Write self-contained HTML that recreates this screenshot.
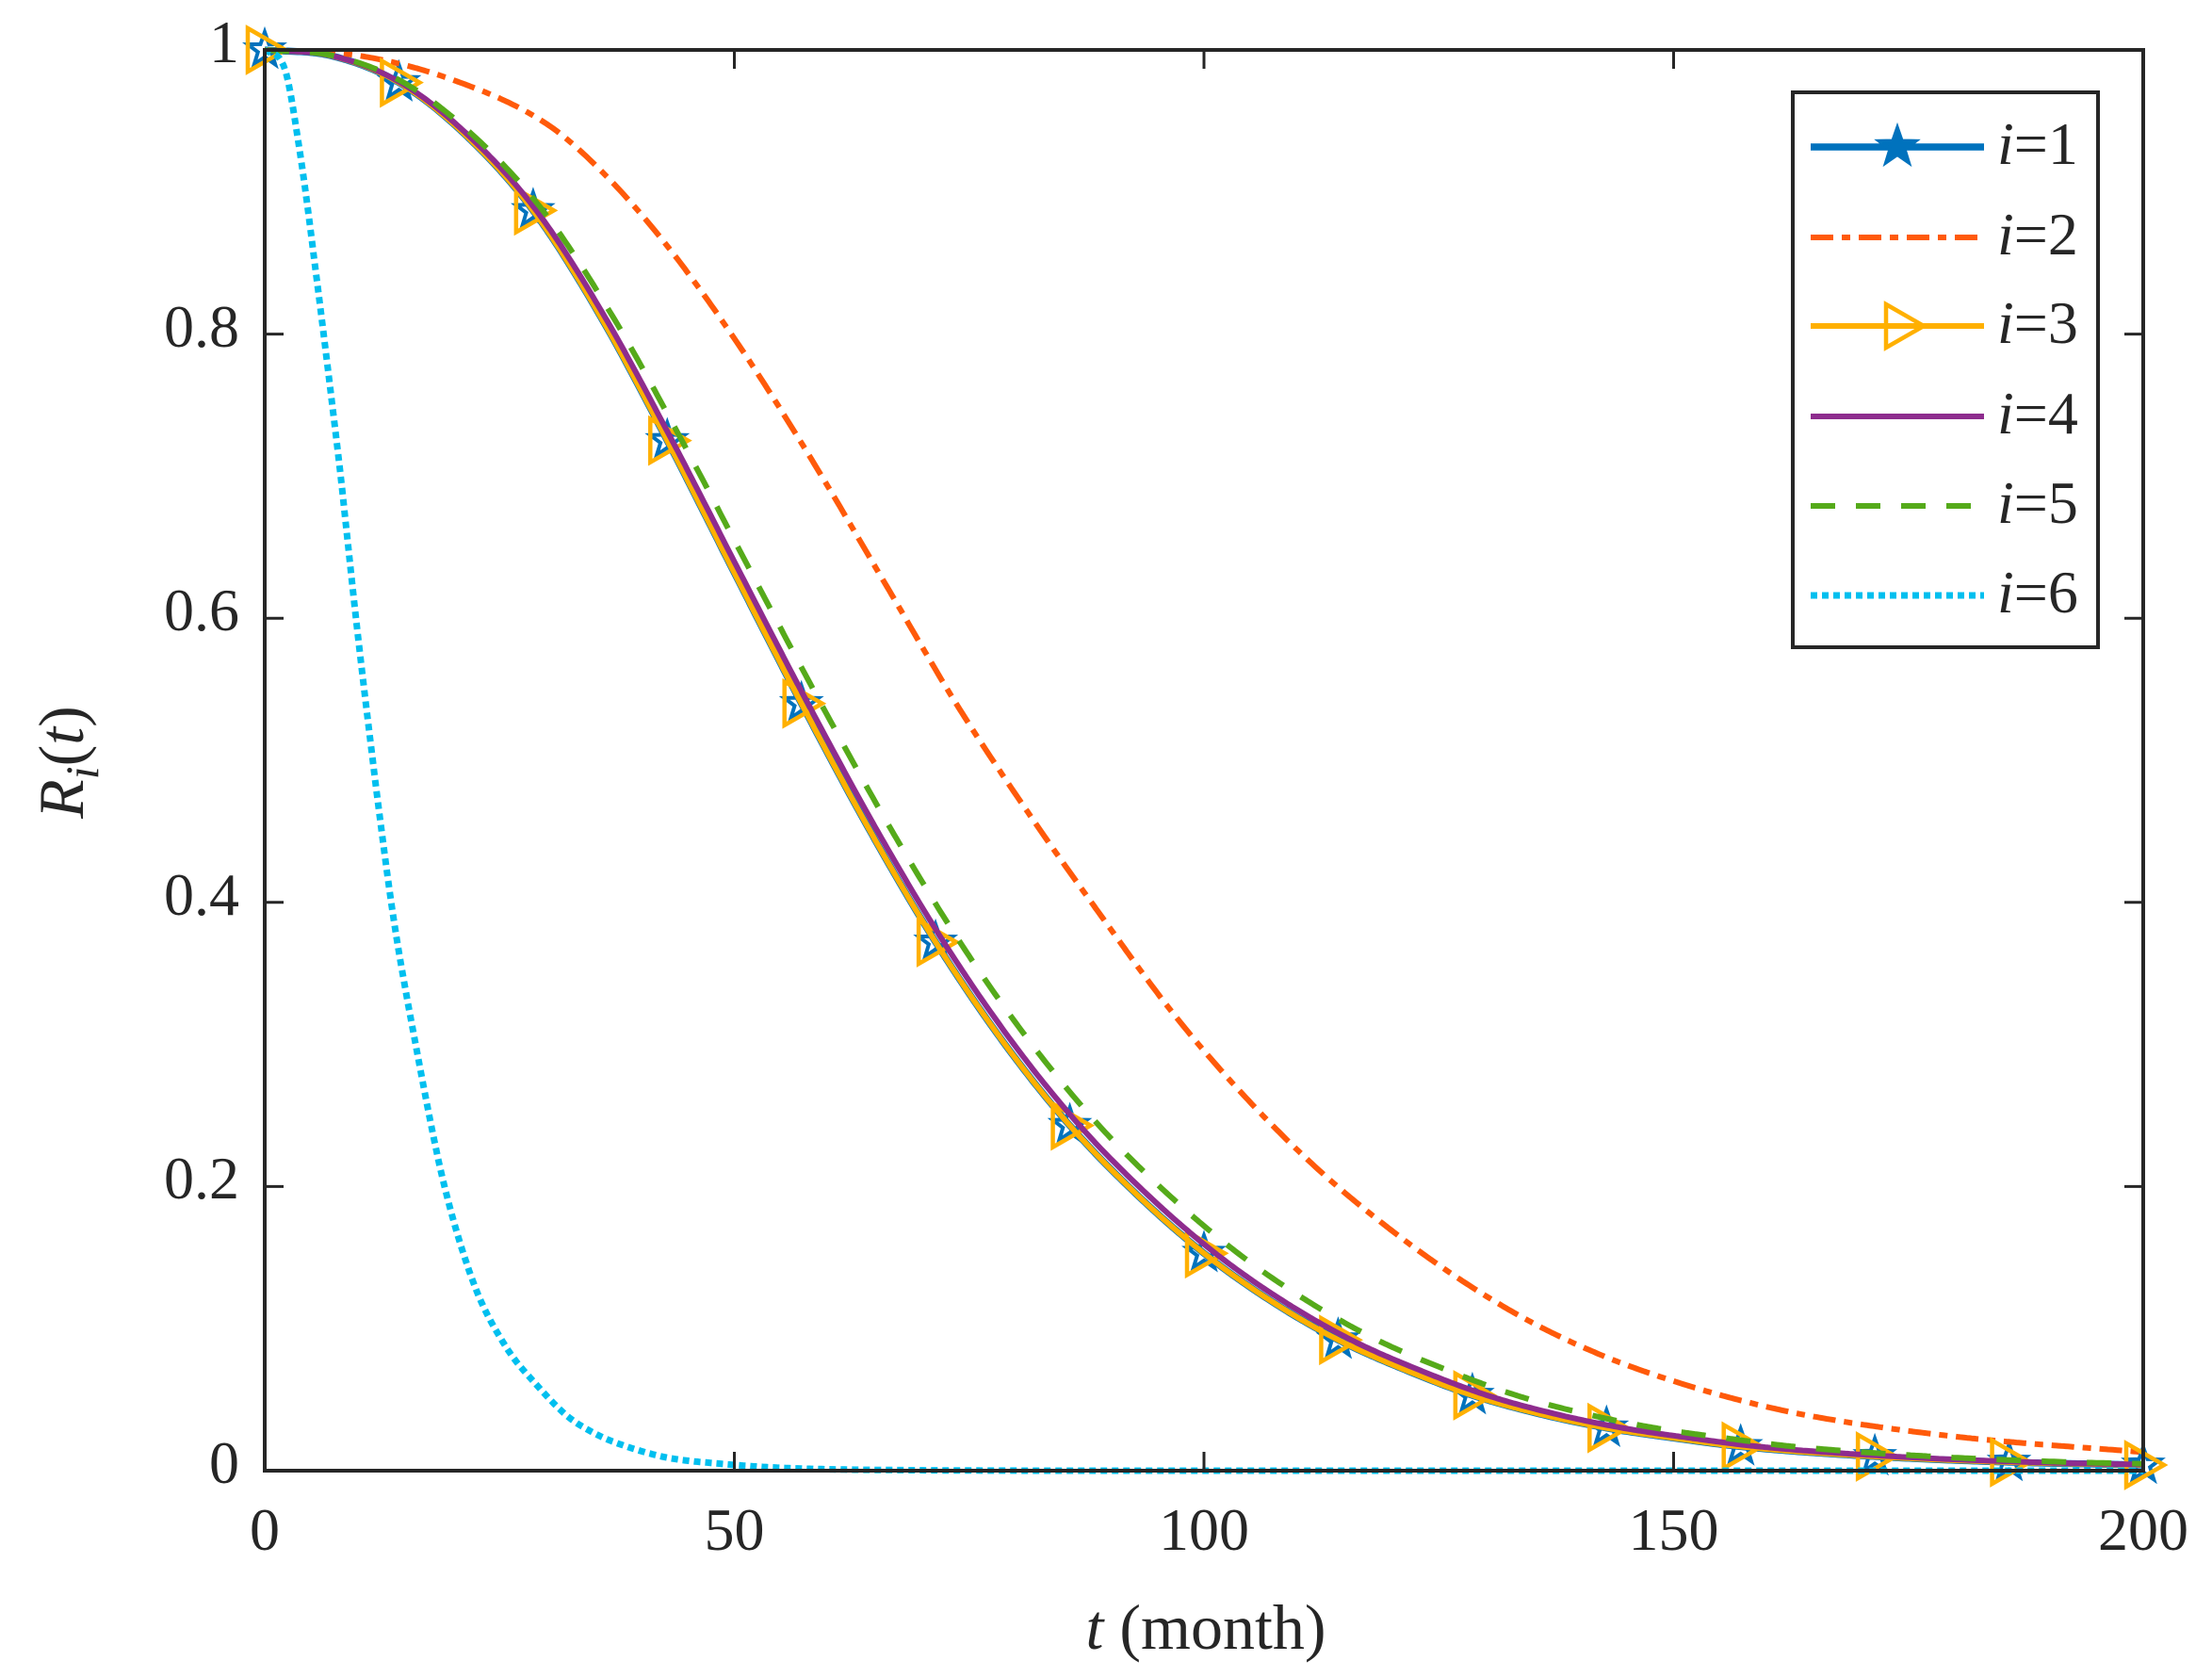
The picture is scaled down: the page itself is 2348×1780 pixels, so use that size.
<!DOCTYPE html>
<html><head><meta charset="utf-8">
<style>
html,body{margin:0;padding:0;background:#fff;}
svg{display:block;}
text{font-family:"Liberation Serif",serif;fill:#262626;}
</style></head>
<body>
<svg id="s" width="2348" height="1780" xmlns="http://www.w3.org/2000/svg">
<rect width="2348" height="1780" fill="#fff"/>
<g id="curves"></g>
<g id="axes" stroke="#262626" stroke-width="4" fill="none">
<rect x="281" y="53" width="1994" height="1508"/>
</g>
<g id="ticks" stroke="#262626" stroke-width="3"></g>
<g font-size="64">
<text x="281" y="1645" text-anchor="middle">0</text>
<text x="779.5" y="1645" text-anchor="middle">50</text>
<text x="1278" y="1645" text-anchor="middle">100</text>
<text x="1776.5" y="1645" text-anchor="middle">150</text>
<text x="2275" y="1645" text-anchor="middle">200</text>
<text x="254" y="1574" text-anchor="end">0</text>
<text x="254" y="1272" text-anchor="end">0.2</text>
<text x="254" y="971" text-anchor="end">0.4</text>
<text x="254" y="669" text-anchor="end">0.6</text>
<text x="254" y="368" text-anchor="end">0.8</text>
<text x="254" y="66" text-anchor="end">1</text>
</g>
<text x="1280" y="1750" font-size="68" text-anchor="middle"><tspan font-style="italic">t</tspan> (month)</text>
<text transform="translate(88,809) rotate(-90)" font-size="68" text-anchor="middle"><tspan font-style="italic">R</tspan><tspan font-style="italic" font-size="50" dy="16">i</tspan><tspan dy="-16">(</tspan><tspan font-style="italic">t</tspan>)</text>
<g id="legend">
<rect x="1903" y="98" width="324" height="589" fill="#fff" stroke="#262626" stroke-width="4"/>
</g>
</svg>
<script>
var X0=281,X1=2275,Y0=1561,Y1=53;
function px(t){return X0+(X1-X0)*t/200;}
function py(r){return Y0-(Y0-Y1)*r;}
function mono(pts){
 var n=pts.length,xs=pts.map(p=>p[0]),ys=pts.map(p=>p[1]);
 var d=[],m=[];
 for(var i=0;i<n-1;i++)d.push((ys[i+1]-ys[i])/(xs[i+1]-xs[i]));
 m[0]=d[0];m[n-1]=d[n-2];
 for(var i=1;i<n-1;i++){ if(d[i-1]*d[i]<=0)m[i]=0; else m[i]=(d[i-1]+d[i])/2;}
 for(var i=0;i<n-1;i++){ if(d[i]==0){m[i]=0;m[i+1]=0;continue;}
  var a=m[i]/d[i],b=m[i+1]/d[i],h=a*a+b*b; if(h>9){var tt=3/Math.sqrt(h);m[i]=tt*a*d[i];m[i+1]=tt*b*d[i];}}
 return function(x){
  if(x<=xs[0])return ys[0]; if(x>=xs[n-1])return ys[n-1];
  var i=0;while(x>xs[i+1])i++;
  var h=xs[i+1]-xs[i],t=(x-xs[i])/h,t2=t*t,t3=t2*t;
  return (2*t3-3*t2+1)*ys[i]+(t3-2*t2+t)*h*m[i]+(-2*t3+3*t2)*ys[i+1]+(t3-t2)*h*m[i+1];
 };
}
var main=mono([[0,1],[7,0.996],[14.29,0.977],[21.4,0.94],[28.57,0.887],[35.7,0.813],[42.86,0.725],[50,0.632],[57.14,0.54],[64.3,0.452],[71.43,0.372],[78.6,0.302],[85.71,0.243],[92.9,0.194],[100,0.153],[107,0.12],[114.3,0.092],[121.4,0.071],[128.6,0.053],[135.7,0.04],[142.9,0.03],[150,0.023],[157.1,0.017],[171.4,0.01],[185.7,0.006],[200,0.004]]);
var r2=mono([[0,1],[10,0.996],[20,0.979],[30,0.948],[35.5,0.917],[42.5,0.865],[50.5,0.792],[58.2,0.712],[66,0.625],[73.7,0.539],[81.4,0.462],[89,0.391],[96.7,0.322],[104.4,0.263],[112,0.213],[119.8,0.170],[127.4,0.134],[135,0.104],[142.8,0.080],[150.5,0.062],[158,0.048],[165,0.038],[180,0.024],[200,0.013]]);
var r6=mono([[0,1],[2.07,0.988],[3.7,0.93],[5.4,0.846],[7.1,0.755],[8.1,0.699],[9.9,0.589],[12.2,0.463],[13.8,0.385],[15.9,0.306],[19,0.204],[22.3,0.131],[25.7,0.087],[29,0.06],[32.3,0.038],[35.5,0.025],[39,0.016],[43,0.009],[48.3,0.005],[55,0.002],[70,0.0003],[90,0],[200,0]]);
function path(f){var s="";for(var t=0;t<=200.001;t+=0.25){s+=(t==0?"M":"L")+px(t).toFixed(1)+","+py(f(t)).toFixed(1);}return s;}
var NS="http://www.w3.org/2000/svg";
function el(tag,attrs,parent){var e=document.createElementNS(NS,tag);for(var k in attrs)e.setAttribute(k,attrs[k]);parent.appendChild(e);return e;}
var g=document.getElementById("curves");
var series=[
 {f:main,c:"#0072BD",w:7.5,d:""},
 {f:r2,c:"#FF5A0A",w:6,d:"24 9 9 9"},
 {f:main,c:"#FFB000",w:6,d:""},
 {f:function(t){return main(t*0.988);},c:"#8E2C8E",w:6,d:""},
 {f:function(t){return main(t*0.965);},c:"#55AA1A",w:6,d:"26 22"},
 {f:r6,c:"#00BFEF",w:7,d:"7 5"}
];
function star(cx,cy,R,parent,fill,col){
 var p=[];for(var k=0;k<10;k++){var a=-Math.PI/2+k*Math.PI/5,r=(k%2==0)?R:R*0.4;p.push((cx+r*Math.cos(a)).toFixed(1)+","+(cy+r*Math.sin(a)).toFixed(1));}
 el("polygon",{points:p.join(" "),fill:fill,stroke:col,"stroke-width":4},parent);
}
function tri(cx,cy,parent,col){
 el("polygon",{points:(cx-18)+","+(cy-23)+" "+(cx+22)+","+cy+" "+(cx-18)+","+(cy+23),fill:"none",stroke:col,"stroke-width":4.5},parent);
}
series.forEach(function(s,i){
 var a={d:path(s.f),fill:"none",stroke:s.c,"stroke-width":s.w,"stroke-linejoin":"round"};
 if(s.d)a["stroke-dasharray"]=s.d;
 el("path",a,g);
 if(i==0){for(var k=0;k<=14;k++){var t=k*200/14;star(px(t),py(main(t)),19,g,"none",s.c);}}
 if(i==2){for(var k=0;k<=14;k++){var t=k*200/14;tri(px(t),py(main(t)),g,s.c);}}
});
var tg=document.getElementById("ticks");
[50,100,150].forEach(function(t){var x=px(t);el("line",{x1:x,y1:Y0,x2:x,y2:Y0-20},tg);el("line",{x1:x,y1:Y1,x2:x,y2:Y1+20},tg);});
[0.2,0.4,0.6,0.8].forEach(function(r){var y=py(r);el("line",{x1:X0,y1:y,x2:X0+20,y2:y},tg);el("line",{x1:X1,y1:y,x2:X1-20,y2:y},tg);});
var lg=document.getElementById("legend");
var rows=[156,252,346,442,537,632];
series.forEach(function(s,i){
 var y=rows[i];
 var a={x1:1922,y1:y,x2:2106,y2:y,stroke:s.c,"stroke-width":s.w};
 if(s.d)a["stroke-dasharray"]=s.d;
 el("line",a,lg);
 if(i==0)star(2014,y,20,lg,s.c,s.c);
 if(i==2)tri(2020,y,lg,s.c);
 var tx=el("text",{x:2120,y:y+18,"font-size":"64"},lg);
 var ts=el("tspan",{"font-style":"italic"},tx);ts.textContent="i";
 var t2=el("tspan",{},tx);t2.textContent="="+(i+1);
});
</script>
</body></html>
